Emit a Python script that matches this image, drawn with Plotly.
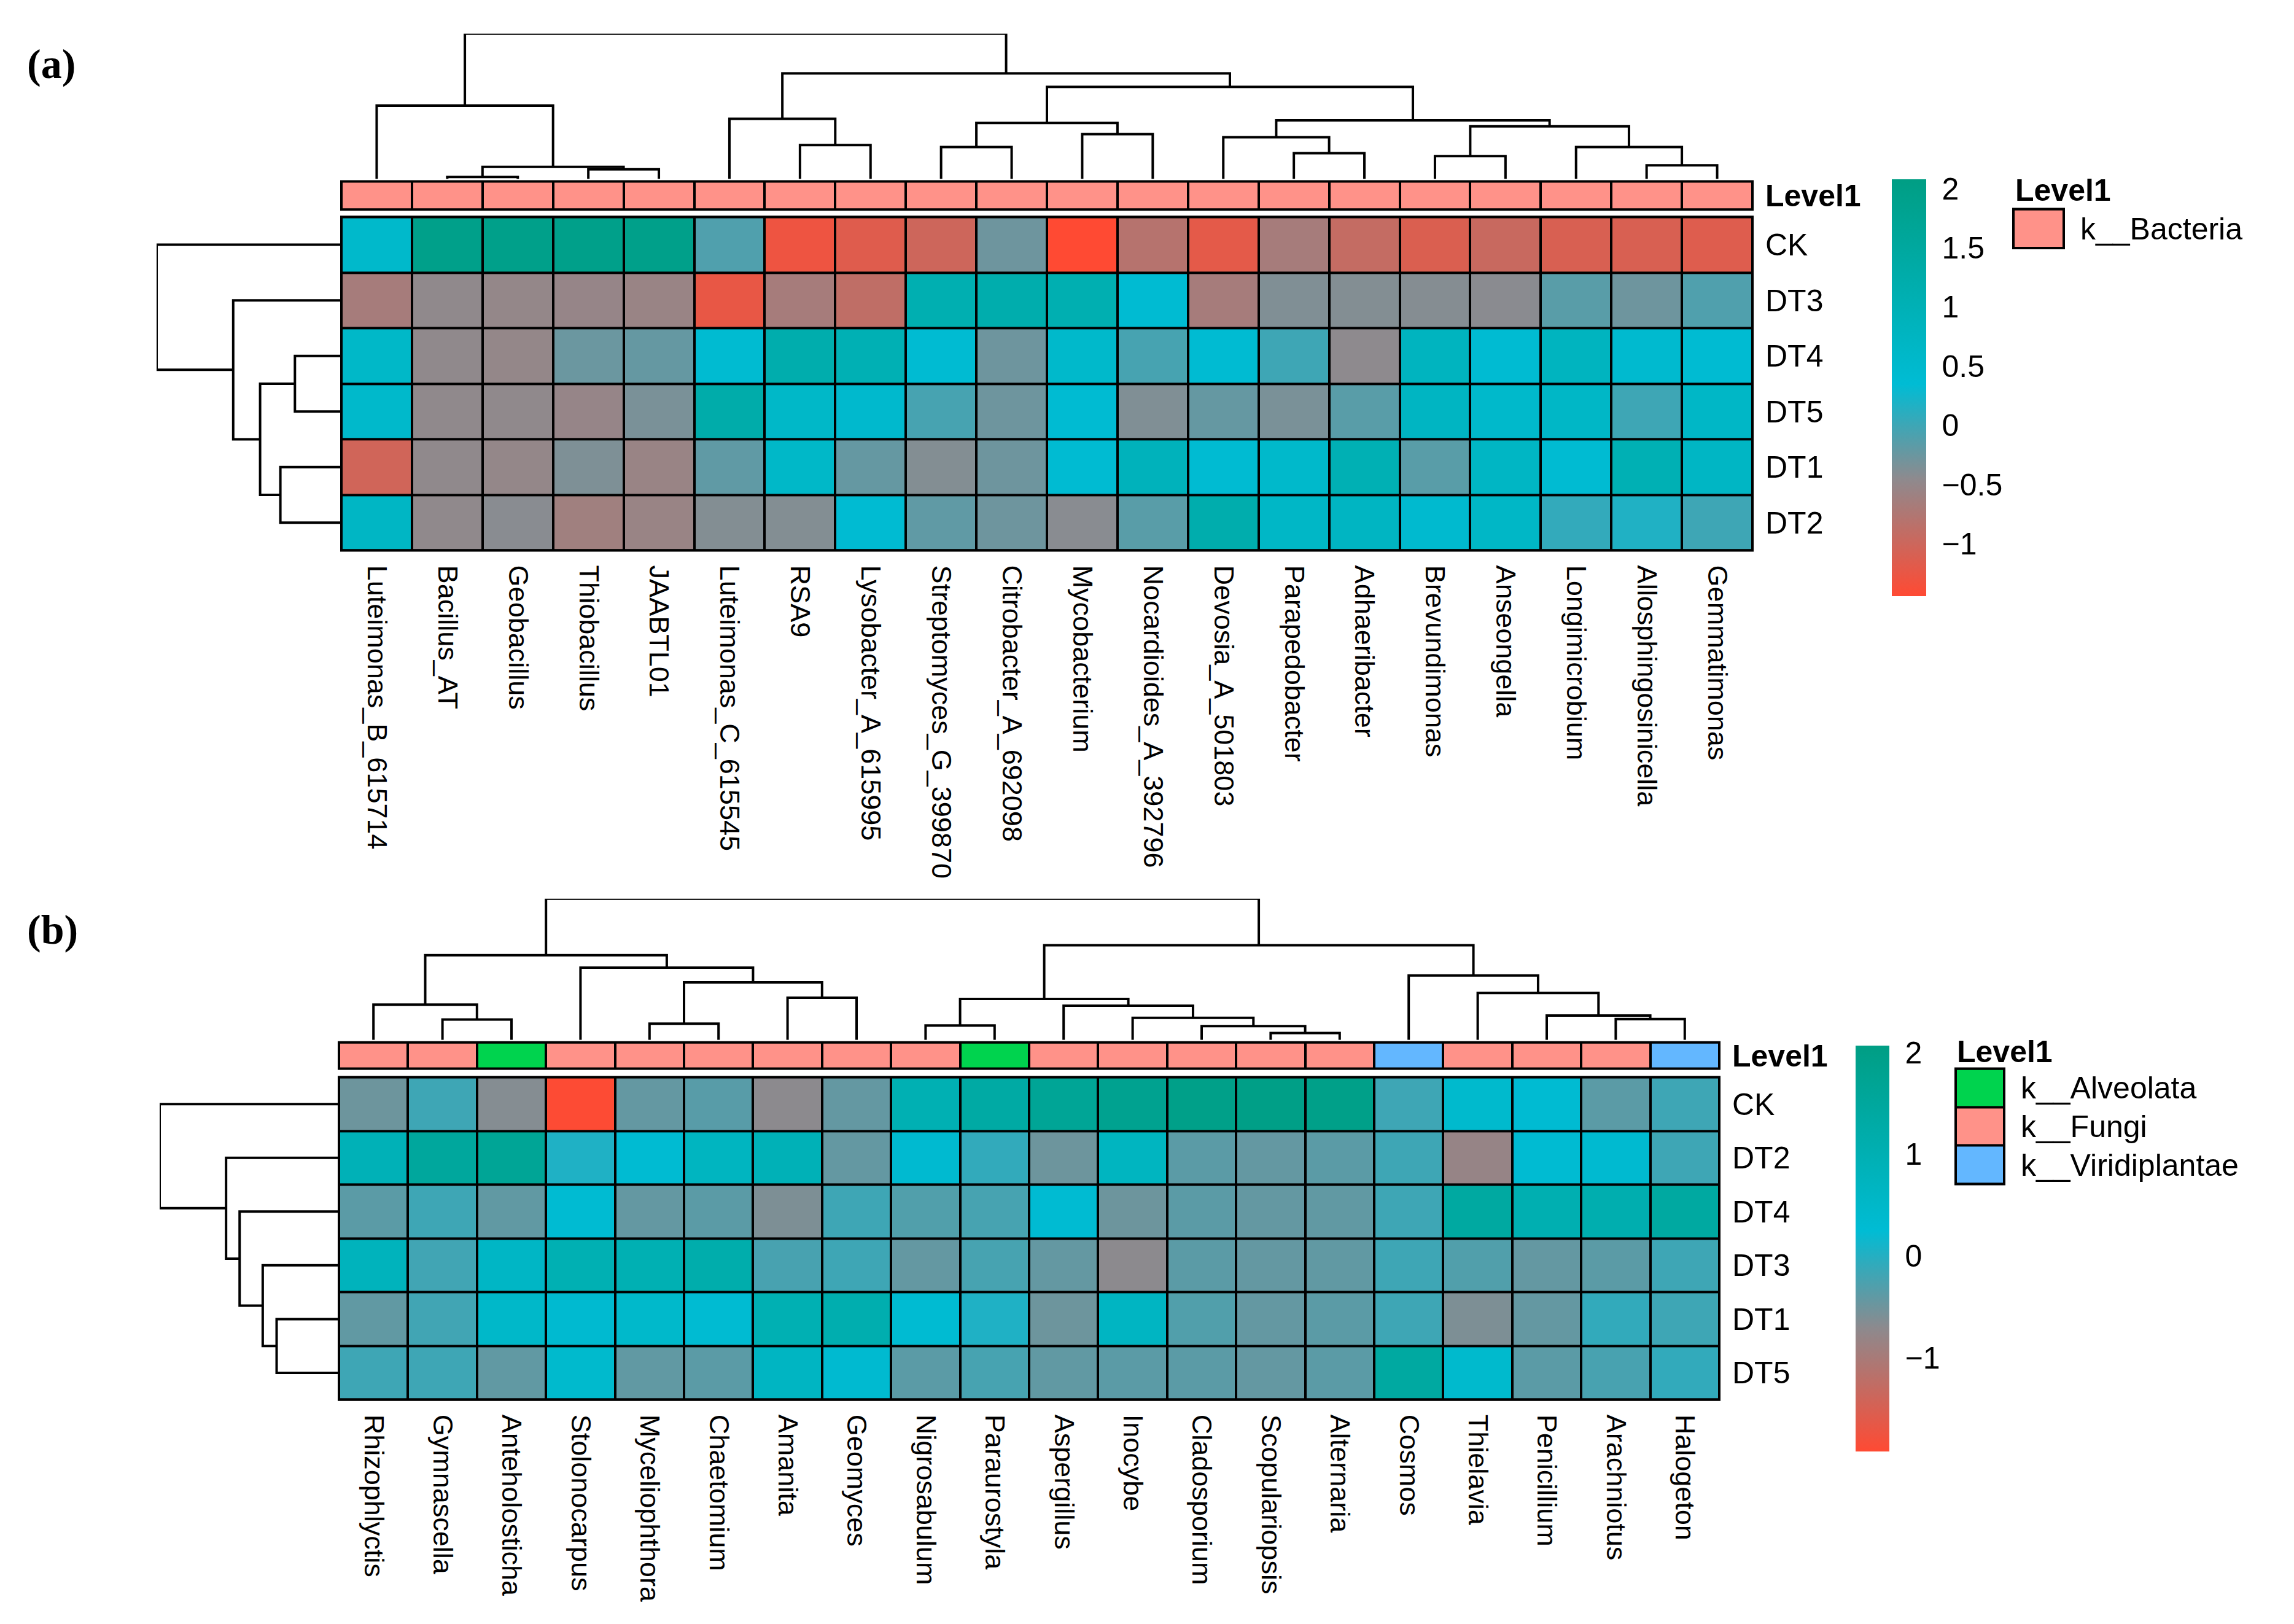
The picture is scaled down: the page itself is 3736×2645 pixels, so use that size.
import plotly.graph_objects as go

# ---------------- DATA ----------------
a_cols = ["Luteimonas_B_615714", "Bacillus_AT", "Geobacillus", "Thiobacillus", "JAABTL01",
          "Luteimonas_C_615545", "RSA9", "Lysobacter_A_615995", "Streptomyces_G_399870",
          "Citrobacter_A_692098", "Mycobacterium", "Nocardioides_A_392796", "Devosia_A_501803",
          "Parapedobacter", "Adhaeribacter", "Brevundimonas", "Anseongella", "Longimicrobium",
          "Allosphingosinicella", "Gemmatimonas"]
a_rows = ["CK", "DT3", "DT4", "DT5", "DT1", "DT2"]
a_level1 = ["k__Bacteria"] * 20
a_level1_names = ["k__Bacteria"]
a_ck = [0.55, 1.95, 1.95, 1.95, 1.95, -0.1, -1.29, -1.16, -1.0, -0.27, -1.44, -0.8, -1.2, -0.66, -0.92, -1.12, -0.96, -1.1, -1.1, -1.15]
a_dt3 = [-0.66, -0.47, -0.5, -0.52, -0.55, -1.24, -0.66, -0.88, 1.1, 1.2, 1.1, 0.4, -0.66, -0.37, -0.39, -0.4, -0.43, -0.15, -0.27, -0.1]
a_dt4 = [0.6, -0.47, -0.5, -0.25, -0.22, 0.42, 1.2, 1.05, 0.4, -0.27, 0.55, -0.05, 0.4, 0.0, -0.45, 0.8, 0.4, 0.8, 0.45, 0.4]
a_dt5 = [0.55, -0.47, -0.47, -0.52, -0.34, 1.25, 0.6, 0.5, -0.05, -0.27, 0.4, -0.37, -0.22, -0.34, -0.15, 0.75, 0.55, 0.65, 0.0, 0.65]
a_dt1 = [-1.03, -0.47, -0.5, -0.36, -0.55, -0.19, 0.6, -0.22, -0.39, -0.27, 0.4, 0.9, 0.4, 0.55, 1.05, -0.15, 0.7, 0.4, 1.05, 0.7]
a_dt2 = [0.7, -0.47, -0.42, -0.61, -0.55, -0.39, -0.39, 0.4, -0.19, -0.27, -0.42, -0.15, 1.2, 0.65, 0.75, 0.45, 0.65, 0.06, 0.17, 0.0]
a_values = [a_ck, a_dt3, a_dt4, a_dt5, a_dt1, a_dt2]
a_cbar_ticks = [-1, -0.5, 0, 0.5, 1, 1.5, 2]
a_zrange = [-1.44, 2.08]
# column tree: (child_a, child_b, height); ids < n are leaves, n+k is merge k
a_col_tree = [(1, 2, 0.014), (3, 4, 0.067), (20, 21, 0.084), (0, 22, 0.505),
              (6, 7, 0.234), (5, 24, 0.414), (8, 9, 0.22), (10, 11, 0.309),
              (26, 27, 0.386), (13, 14, 0.178), (12, 29, 0.288), (15, 16, 0.158),
              (18, 19, 0.094), (17, 32, 0.22), (31, 33, 0.363), (30, 34, 0.404),
              (28, 35, 0.634), (25, 36, 0.727), (23, 37, 1.0)]
a_row_tree = [(2, 3, 0.249), (4, 5, 0.328), (6, 7, 0.438), (1, 8, 0.584), (0, 9, 1.0)]

b_cols = ["Rhizophlyctis", "Gymnascella", "Anteholosticha", "Stolonocarpus", "Myceliophthora",
          "Chaetomium", "Amanita", "Geomyces", "Nigrosabulum", "Paraurostyla", "Aspergillus",
          "Inocybe", "Cladosporium", "Scopulariopsis", "Alternaria", "Cosmos", "Thielavia",
          "Penicillium", "Arachniotus", "Halogeton"]
b_rows = ["CK", "DT2", "DT4", "DT3", "DT1", "DT5"]
b_level1 = ["k__Fungi", "k__Fungi", "k__Alveolata", "k__Fungi", "k__Fungi", "k__Fungi", "k__Fungi",
            "k__Fungi", "k__Fungi", "k__Alveolata", "k__Fungi", "k__Fungi", "k__Fungi", "k__Fungi",
            "k__Fungi", "k__Viridiplantae", "k__Fungi", "k__Fungi", "k__Fungi", "k__Viridiplantae"]
b_level1_names = ["k__Alveolata", "k__Fungi", "k__Viridiplantae"]
b_ck = [-0.49, -0.17, -0.65, -1.9, -0.43, -0.35, -0.7, -0.43, 1.0, 1.35, 1.65, 1.8, 1.95, 2.0, 1.95, -0.17, 0.4, 0.3, -0.37, -0.17]
b_dt2 = [0.9, 1.5, 1.65, 0.04, 0.3, 0.7, 0.9, -0.43, 0.35, -0.09, -0.49, 0.7, -0.37, -0.43, -0.37, -0.17, -0.81, 0.3, 0.35, -0.17]
b_dt4 = [-0.37, -0.17, -0.41, 0.3, -0.43, -0.37, -0.6, -0.17, -0.3, -0.23, 0.3, -0.49, -0.37, -0.43, -0.41, -0.17, 1.4, 1.05, 1.1, 1.4]
b_dt3 = [0.8, -0.19, 0.6, 1.0, 1.0, 1.15, -0.24, -0.17, -0.43, -0.23, -0.43, -0.7, -0.37, -0.43, -0.41, -0.17, -0.3, -0.43, -0.37, -0.17]
b_dt1 = [-0.41, -0.19, 0.5, 0.35, 0.45, 0.3, 1.0, 1.1, 0.3, 0.04, -0.49, 0.65, -0.3, -0.43, -0.37, -0.17, -0.6, -0.43, -0.09, -0.17]
b_dt5 = [-0.17, -0.17, -0.41, 0.4, -0.41, -0.37, 0.65, 0.35, -0.37, -0.23, -0.41, -0.37, -0.37, -0.43, -0.37, 1.4, 0.4, -0.37, -0.24, -0.09]
b_values = [b_ck, b_dt2, b_dt4, b_dt3, b_dt1, b_dt5]
b_cbar_ticks = [-1, 0, 1, 2]
b_zrange = [-1.92, 2.07]
b_col_tree = [(1, 2, 0.144), (0, 20, 0.25), (4, 5, 0.115), (6, 7, 0.299), (22, 23, 0.408),
              (3, 24, 0.512), (21, 25, 0.6), (8, 9, 0.102), (13, 14, 0.048), (12, 28, 0.098),
              (11, 29, 0.156), (10, 30, 0.242), (27, 31, 0.29), (18, 19, 0.147), (17, 33, 0.173),
              (16, 34, 0.332), (15, 35, 0.456), (32, 36, 0.671), (26, 37, 1.0)]
b_row_tree = [(4, 5, 0.352), (3, 6, 0.429), (2, 7, 0.557), (1, 8, 0.632), (0, 9, 1.0)]

# ---------------- STYLE ----------------
W, H = 3736, 2645
OFF = 8                     # page body margin
FW, FH = W - 2 * OFF, H - 2 * OFF
FONT = "Liberation Sans, Arial, sans-serif"
LEVEL_COLORS = {"k__Bacteria": "#FF9289", "k__Fungi": "#FF9289",
                "k__Alveolata": "#00D34E", "k__Viridiplantae": "#63B7FF"}


def ramp(stops, zr):
    lo, hi = zr
    return [[(v - lo) / (hi - lo), c] for v, c in stops]


a_cs = ramp([(-1.44, "#FF4A33"), (-0.45, "#8E8A8E"), (0.35, "#00BCD4"), (2.08, "#009E84")], a_zrange)
b_cs = ramp([(-1.92, "#FF4A33"), (-0.7, "#8C8A8E"), (0.25, "#00BCD4"), (2.07, "#009E84")], b_zrange)


def px_x(p):
    return (p - OFF) / FW


def px_y(p):
    return 1 - (p - OFF) / FH


def xd(l, r):
    return [px_x(l), px_x(r)]


def yd(t, b):
    return [px_y(b), px_y(t)]


fig = go.Figure()
axes = {}
shapes = []
annotations = []
count = [0]


def new_axes(xdom, ydom):
    count[0] += 1
    i = count[0]
    sfx = "" if i == 1 else str(i)
    base = dict(showgrid=False, zeroline=False, showticklabels=False, ticks="", showline=False, fixedrange=True)
    axes["xaxis" + sfx] = dict(base, domain=xdom, anchor="y" + sfx)
    axes["yaxis" + sfx] = dict(base, domain=ydom, anchor="x" + sfx)
    return "x" + sfx, "y" + sfx, "xaxis" + sfx, "yaxis" + sfx


def tree_lines(tree, n):
    pos = {i: float(i) for i in range(n)}
    hgt = {i: 0.0 for i in range(n)}
    ps, hs = [], []
    for k, (a, b, h) in enumerate(tree):
        ps += [pos[a], pos[a], pos[b], pos[b], None]
        hs += [hgt[a], h, h, hgt[b], None]
        pos[n + k] = (pos[a] + pos[b]) / 2
        hgt[n + k] = h
    return ps, hs


def boxed(xr, yr, below=True):
    if below:
        shapes.append(dict(type="rect", xref=xr + " domain", yref=yr + " domain", x0=0, x1=1, y0=0, y1=1,
                           fillcolor="black", line=dict(width=0), layer="below"))
    shapes.append(dict(type="rect", xref=xr + " domain", yref=yr + " domain", x0=0, x1=1, y0=0, y1=1,
                       fillcolor="rgba(0,0,0,0)", line=dict(color="black", width=4), layer="above"))


def cat_scale(names):
    k = len(names)
    if k == 1:
        return [[0, LEVEL_COLORS[names[0]]], [1, LEVEL_COLORS[names[0]]]]
    return [[i / (k - 1), LEVEL_COLORS[nm]] for i, nm in enumerate(names)]


def panel(cols, rows, values, level, level_names, tree_c, tree_r, cs, zr, ticks_cb, g):
    ncol, nrow = len(cols), len(rows)
    # main heatmap
    xr, yr, xn, yn = new_axes(xd(*g["hm_x"]), yd(*g["hm_y"]))
    fig.add_trace(go.Heatmap(z=values, x=list(range(ncol)), y=list(range(nrow)), colorscale=cs,
                             zmin=zr[0], zmax=zr[1], xgap=4, ygap=4, xaxis=xr, yaxis=yr, hoverinfo="skip",
                             colorbar=dict(x=px_x(g["cb_x"]), xanchor="left", y=px_y(g["cb_top"]), yanchor="top",
                                           len=g["cb_len"], lenmode="pixels", thickness=g["cb_w"],
                                           thicknessmode="pixels", outlinewidth=0, xpad=0, ypad=0,
                                           tickvals=ticks_cb, ticks="outside", ticklen=16,
                                           tickcolor="rgba(0,0,0,0)",
                                           tickfont=dict(family=FONT, size=50, color="black"))))
    axes[xn].update(range=[-0.5, ncol - 0.5], showticklabels=True, tickvals=list(range(ncol)), ticktext=cols,
                    tickangle=90, ticks="outside", ticklen=14, tickcolor="rgba(0,0,0,0)",
                    tickfont=dict(family=FONT, size=45, color="black"))
    axes[yn].update(range=[nrow - 0.5, -0.5], side="right", showticklabels=True, tickvals=list(range(nrow)),
                    ticktext=rows, ticks="outside", ticklen=10, tickcolor="rgba(0,0,0,0)",
                    tickfont=dict(family=FONT, size=50, color="black"))
    boxed(xr, yr)
    # annotation bar
    codes = [level_names.index(v) for v in level]
    xr2, yr2, xn2, yn2 = new_axes(xd(*g["hm_x"]), yd(*g["ann_y"]))
    fig.add_trace(go.Heatmap(z=[codes], x=list(range(ncol)), y=[0], colorscale=cat_scale(level_names),
                             zmin=0, zmax=max(len(level_names) - 1, 1), showscale=False, xgap=4, ygap=0,
                             xaxis=xr2, yaxis=yr2, hoverinfo="skip"))
    axes[xn2].update(range=[-0.5, ncol - 0.5])
    axes[yn2].update(range=[-0.5, 0.5], side="right", showticklabels=True, tickvals=[0],
                     ticktext=["<b>Level1</b>"], ticks="outside", ticklen=10, tickcolor="rgba(0,0,0,0)",
                     tickfont=dict(family=FONT, size=50, color="black"))
    boxed(xr2, yr2)
    # column dendrogram
    xr3, yr3, xn3, yn3 = new_axes(xd(*g["hm_x"]), yd(*g["dend_y"]))
    px, ph = tree_lines(tree_c, ncol)
    fig.add_trace(go.Scatter(x=px, y=ph, mode="lines", line=dict(color="black", width=4),
                             xaxis=xr3, yaxis=yr3, hoverinfo="skip", showlegend=False))
    axes[xn3].update(range=[-0.5, ncol - 0.5])
    axes[yn3].update(range=[0, 1])
    # row dendrogram
    xr4, yr4, xn4, yn4 = new_axes(xd(*g["rd_x"]), yd(*g["hm_y"]))
    py, pw = tree_lines(tree_r, nrow)
    fig.add_trace(go.Scatter(x=pw, y=py, mode="lines", line=dict(color="black", width=4),
                             xaxis=xr4, yaxis=yr4, hoverinfo="skip", showlegend=False))
    axes[xn4].update(range=[1, 0])
    axes[yn4].update(range=[nrow - 0.5, -0.5])
    # legend for Level1
    xr5, yr5, xn5, yn5 = new_axes(xd(*g["leg_x"]), yd(*g["leg_y"]))
    nl = len(level_names)
    fig.add_trace(go.Heatmap(z=[[i] for i in range(nl)], x=[0], y=list(range(nl)),
                             colorscale=cat_scale(level_names), zmin=0, zmax=max(nl - 1, 1),
                             showscale=False, xgap=0, ygap=4, xaxis=xr5, yaxis=yr5, hoverinfo="skip"))
    axes[xn5].update(range=[-0.5, 0.5])
    axes[yn5].update(range=[nl - 0.5, -0.5], side="right", showticklabels=True, tickvals=list(range(nl)),
                     ticktext=level_names, ticks="outside", ticklen=16, tickcolor="rgba(0,0,0,0)",
                     tickfont=dict(family=FONT, size=50, color="black"))
    boxed(xr5, yr5)
    annotations.append(dict(text="<b>Level1</b>", x=px_x(g["leg_title"][0]), y=px_y(g["leg_title"][1]),
                            xref="paper", yref="paper", xanchor="left", yanchor="middle", showarrow=False,
                            font=dict(family=FONT, size=50, color="black")))
    annotations.append(dict(text="<b>" + g["tag"] + "</b>", x=px_x(g["tag_xy"][0]), y=px_y(g["tag_xy"][1]),
                            xref="paper", yref="paper", xanchor="left", yanchor="middle", showarrow=False,
                            font=dict(family="Liberation Serif, Times New Roman, serif", size=68, color="black")))


geo_a = dict(hm_x=(556, 2854), hm_y=(349, 895), ann_y=(291, 337), dend_y=(49, 287), rd_x=(255, 555),
             cb_x=3081, cb_top=287, cb_len=679, cb_w=56, leg_x=(3279, 3361), leg_y=(336, 400),
             leg_title=(3280, 305), tag="(a)", tag_xy=(42, 98))
geo_b = dict(hm_x=(552, 2800), hm_y=(1757, 2285), ann_y=(1700, 1743), dend_y=(1465, 1696), rd_x=(260, 554),
             cb_x=3022, cb_top=1705, cb_len=661, cb_w=55, leg_x=(3185, 3264), leg_y=(1743, 1932),
             leg_title=(3185, 1715), tag="(b)", tag_xy=(42, 1515))

panel(a_cols, a_rows, a_values, a_level1, a_level1_names, a_col_tree, a_row_tree, a_cs, a_zrange,
      a_cbar_ticks, geo_a)
panel(b_cols, b_rows, b_values, b_level1, b_level1_names, b_col_tree, b_row_tree, b_cs, b_zrange,
      b_cbar_ticks, geo_b)

fig.update_layout(width=FW, height=FH, margin=dict(l=0, r=0, t=0, b=0), paper_bgcolor="white",
                  plot_bgcolor="rgba(0,0,0,0)", showlegend=False, shapes=shapes, annotations=annotations,
                  font=dict(family=FONT, color="black"), **axes)

fig.write_html("out.html")
